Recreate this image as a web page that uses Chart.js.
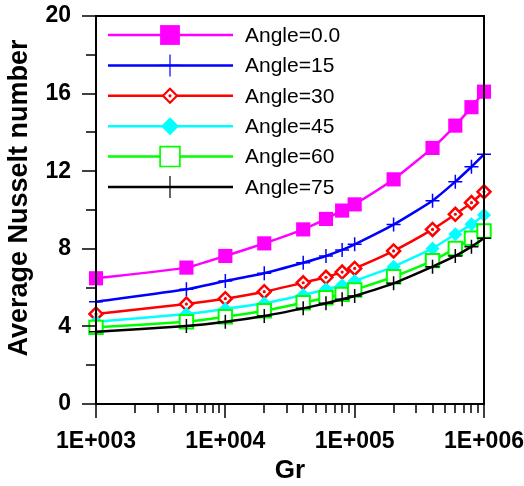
<!DOCTYPE html>
<html>
<head>
<meta charset="utf-8">
<script src="https://cdn.jsdelivr.net/npm/chart.js@4"></script>
<style>
  html, body { margin: 0; padding: 0; background: #fff; }
</style>
</head>
<body>
<canvas id="c" width="524" height="486"></canvas>
<script>
// Grashof numbers (x) and average Nusselt number for each inclination angle
const grashof = [1e3, 5e3, 1e4, 2e4, 4e4, 6e4, 8e4, 1e5, 2e5, 4e5, 6e5, 8e5, 1e6];
const nuAngle0  = [6.48, 7.03, 7.63, 8.28, 9.00, 9.54, 9.97, 10.29, 11.58, 13.20, 14.35, 15.30, 16.10];
const nuAngle15 = [5.27, 5.91, 6.34, 6.74, 7.28, 7.63, 7.94, 8.23, 9.25, 10.48, 11.46, 12.23, 12.87];
const nuAngle30 = [4.64, 5.15, 5.43, 5.79, 6.25, 6.53, 6.80, 6.99, 7.89, 9.00, 9.78, 10.38, 10.94];
const nuAngle45 = [4.24, 4.64, 4.90, 5.19, 5.62, 5.91, 6.12, 6.34, 7.08, 8.02, 8.75, 9.26, 9.74];
const nuAngle60 = [3.95, 4.24, 4.50, 4.81, 5.22, 5.48, 5.65, 5.88, 6.56, 7.39, 8.02, 8.54, 8.92];
const nuAngle75 = [3.73, 4.02, 4.24, 4.54, 4.93, 5.19, 5.40, 5.57, 6.22, 7.08, 7.63, 8.11, 8.54];

const seriesNames = ['Angle=0.0', 'Angle=15', 'Angle=30', 'Angle=45', 'Angle=60', 'Angle=75'];
const seriesValues = [nuAngle0, nuAngle15, nuAngle30, nuAngle45, nuAngle60, nuAngle75];

// Axis ticks and titles
const xDecades = [1e3, 1e4, 1e5, 1e6];
const xTickLabels = ['1E+003', '1E+004', '1E+005', '1E+006'];
const yTicks = [0, 4, 8, 12, 16, 20];
const yMinorTicks = [2, 6, 10, 14, 18];
const yTitle = 'Average Nusselt number';

// Marker appearance per series (plot marker / legend marker)
const styles = [
  { color: '#ff00ff', point: 'rect',    radius: 10, legendRadius: 14, fill: '#ff00ff', pbw: 0 },
  { color: '#0000ff', point: 'cross',   radius: 7,  legendRadius: 11, fill: '#0000ff', pbw: 1.5 },
  { color: '#ff0000', point: 'rectRot', radius: 6.5, legendRadius: 7, fill: '#ffffff', pbw: 2.5, dot: true },
  { color: '#00ffff', point: 'rectRot', radius: 7,  legendRadius: 9,  fill: '#00ffff', pbw: 0 },
  { color: '#00ff00', point: 'rect',    radius: 9.5, legendRadius: 14, fill: '#ffffff', pbw: 2 },
  { color: '#000000', point: 'cross',   radius: 7,  legendRadius: 11, fill: '#000000', pbw: 1.5 }
];

const datasets = seriesValues.map((vals, i) => ({
  label: seriesNames[i],
  data: grashof.map((g, k) => ({ x: g, y: vals[k] })),
  borderColor: styles[i].color,
  backgroundColor: styles[i].color,
  borderWidth: 2.5,
  pointStyle: styles[i].point,
  pointRadius: styles[i].radius,
  pointBackgroundColor: styles[i].fill,
  pointBorderColor: styles[i].color,
  pointBorderWidth: styles[i].pbw,
  tension: 0.15,
  clip: false,
  order: seriesValues.length - i
}));

const FONT = "'Liberation Sans', Arial, sans-serif";

// Frame, tick marks, y-axis title and the hollow-diamond centre dots
const framePlugin = {
  id: 'frame',
  afterDatasetsDraw(chart) {
    const ctx = chart.ctx;
    chart.data.datasets.forEach((ds, i) => {
      if (!styles[i].dot) return;
      const meta = chart.getDatasetMeta(i);
      ctx.save();
      ctx.fillStyle = styles[i].color;
      meta.data.forEach(pt => {
        ctx.beginPath();
        ctx.arc(pt.x, pt.y, 1.6, 0, Math.PI * 2);
        ctx.fill();
      });
      ctx.restore();
    });
  },
  afterDraw(chart) {
    const { ctx, chartArea: a, scales: { x, y } } = chart;
    ctx.save();
    ctx.strokeStyle = '#000';
    ctx.lineWidth = 2;
    ctx.strokeRect(a.left, a.top, a.right - a.left, a.bottom - a.top);

    ctx.lineWidth = 1.5;
    ctx.beginPath();
    yTicks.forEach(v => {
      const py = Math.round(y.getPixelForValue(v));
      ctx.moveTo(a.left - 14, py); ctx.lineTo(a.left, py);
    });
    yMinorTicks.forEach(v => {
      const py = Math.round(y.getPixelForValue(v));
      ctx.moveTo(a.left - 10, py); ctx.lineTo(a.left, py);
    });
    xDecades.forEach((d, k) => {
      const px = Math.round(x.getPixelForValue(d));
      ctx.moveTo(px, a.bottom); ctx.lineTo(px, a.bottom + 14);
      if (k < xDecades.length - 1) {
        for (let m = 2; m <= 9; m++) {
          const mx = Math.round(x.getPixelForValue(d * m));
          ctx.moveTo(mx, a.bottom); ctx.lineTo(mx, a.bottom + 9);
        }
      }
    });
    ctx.stroke();

    // rotated y-axis title, sitting a little above the axis middle
    ctx.translate(20, (a.top + a.bottom) / 2 - 12);
    ctx.rotate(-Math.PI / 2);
    ctx.font = 'bold 27px ' + FONT;
    ctx.fillStyle = '#000';
    ctx.textAlign = 'center';
    ctx.textBaseline = 'middle';
    ctx.fillText(yTitle, 0, 0);
    ctx.restore();
  }
};

// Legend drawn inside the plot: line segment with marker, then the label
const legendPlugin = {
  id: 'insideLegend',
  afterDraw(chart) {
    const { ctx, chartArea: a } = chart;
    ctx.save();
    ctx.font = '21px ' + FONT;
    ctx.textBaseline = 'middle';
    ctx.textAlign = 'left';
    chart.data.datasets.forEach((ds, i) => {
      const st = styles[i];
      const yy = a.top + 19 + i * 30.4;
      const x0 = a.left + 12, x1 = a.left + 137, xm = a.left + 74;
      ctx.strokeStyle = st.color;
      ctx.lineWidth = 2.5;
      ctx.beginPath();
      ctx.moveTo(x0, yy); ctx.lineTo(x1, yy);
      ctx.stroke();
      ctx.fillStyle = st.fill;
      ctx.strokeStyle = st.color;
      ctx.lineWidth = st.pbw > 0 ? Math.max(1.2, st.pbw - 0.3) : 0;
      Chart.helpers.drawPoint(ctx, {
        pointStyle: st.point, radius: st.legendRadius, rotation: 0,
        borderWidth: st.pbw
      }, xm, yy);
      if (st.dot) {
        ctx.fillStyle = st.color;
        ctx.beginPath(); ctx.arc(xm, yy, 1.6, 0, Math.PI * 2); ctx.fill();
      }
      ctx.fillStyle = '#000';
      ctx.fillText(ds.label, a.left + 149, yy + 1);
    });
    ctx.restore();
  }
};

new Chart(document.getElementById('c'), {
  type: 'line',
  data: { datasets },
  options: {
    responsive: false,
    devicePixelRatio: 1,
    animation: false,
    events: [],
    layout: { padding: { left: 0, right: 40, top: 16, bottom: 0 } },
    plugins: { legend: { display: false }, tooltip: { enabled: false } },
    scales: {
      x: {
        type: 'logarithmic',
        min: 1e3,
        max: 1e6,
        afterFit(scale) { scale.height = 82; scale.paddingLeft = 0; scale.paddingRight = 0; },
        afterBuildTicks(scale) { scale.ticks = xDecades.map(v => ({ value: v })); },
        grid: { display: false, drawTicks: false },
        border: { display: false },
        ticks: {
          autoSkip: false, maxRotation: 0, padding: 24,
          color: '#000',
          font: { family: FONT, size: 23, weight: 'bold' },
          callback: (v) => xTickLabels[xDecades.indexOf(v)] ?? ''
        },
        title: {
          display: true, text: 'Gr', color: '#000',
          font: { family: FONT, size: 26, weight: 'bold' },
          padding: { top: 0, bottom: 0 }
        }
      },
      y: {
        min: 0,
        max: 20,
        afterFit(scale) { scale.width = 96; scale.paddingTop = 0; scale.paddingBottom = 0; },
        afterBuildTicks(scale) { scale.ticks = yTicks.map(v => ({ value: v })); },
        grid: { display: false, drawTicks: false },
        border: { display: false },
        ticks: {
          padding: 25, color: '#000',
          font: { family: FONT, size: 23, weight: 'bold' }
        },
        title: { display: false }
      }
    }
  },
  plugins: [framePlugin, legendPlugin]
});
</script>
</body>
</html>
